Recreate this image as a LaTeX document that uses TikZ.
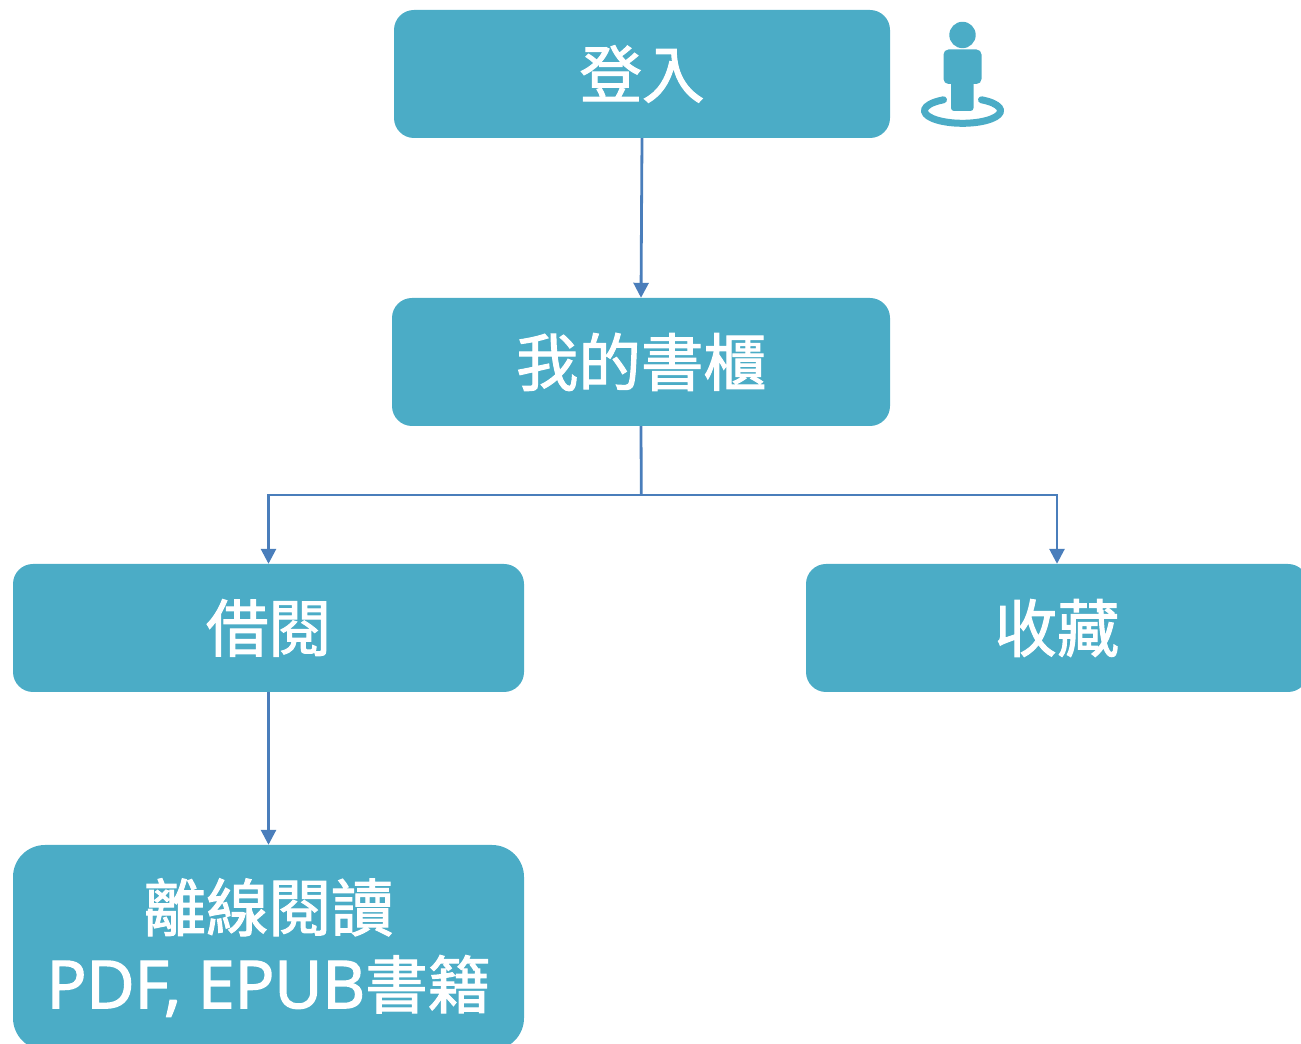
\documentclass[tikz,border=0pt]{standalone}
\usepackage{fontspec}
\usetikzlibrary{arrows.meta}
\newfontfamily\cjkfont[FakeBold=1.6]{Noto Sans CJK TC}
\newfontfamily\latinfont[FakeBold=2.2]{Open Sans}
\definecolor{boxteal}{HTML}{4BACC6}
\definecolor{linkblue}{HTML}{4A7EBB}
\tikzset{
  box/.style={rectangle,rounded corners=20pt,fill=boxteal,draw=none,text=white,inner sep=0pt,
    minimum height=128pt,align=center,font=\cjkfont\fontsize{62.5}{77}\selectfont},
  link/.style={draw=linkblue,line width=2.8pt,-{Triangle[length=15pt,width=15pt]}},
  plainlink/.style={draw=linkblue,line width=2.8pt},
}
\begin{document}
\begin{tikzpicture}[x=1pt,y=1pt]
\useasboundingbox (0,0) rectangle (1301,1044);
\clip (0,0) rectangle (1301,1044);
\node[box,minimum width=496pt] (login) at (642,970) {登入};
\node[box,minimum width=498pt] (shelf) at (641,682) {我的書櫃};
\node[box,minimum width=511pt] (borrow) at (268.5,416) {借閱};
\node[box,minimum width=502pt] (fav) at (1057,416) {收藏};
\node[box,minimum width=511pt,minimum height=205pt,rounded corners=32pt] (offline) at (268.5,96.5)
  {離線閱讀\\{\latinfont\fontsize{66}{77}\selectfont PDF, EPUB}書籍};
\coordinate (split) at (641.3,549);
\draw[link] (login.south) -- (shelf.north);
\draw[plainlink] (shelf.south) -- (split);
\draw[link] (split) -| (borrow.north);
\draw[link] (split) -| (fav.north);
\draw[link] (borrow.south) -- (offline.north);
% person icon
\fill[boxteal] (962.5,1009) circle (13.2);
\fill[boxteal,rounded corners=5pt] (943.5,960) rectangle (981.5,994.5);
\fill[boxteal,rounded corners=3pt] (951,933) rectangle (973.5,970);
\draw[boxteal,line width=7pt,line cap=round] (981.5,944.2) arc[start angle=60,end angle=-240,x radius=38,y radius=12.6];
\end{tikzpicture}
\end{document}
